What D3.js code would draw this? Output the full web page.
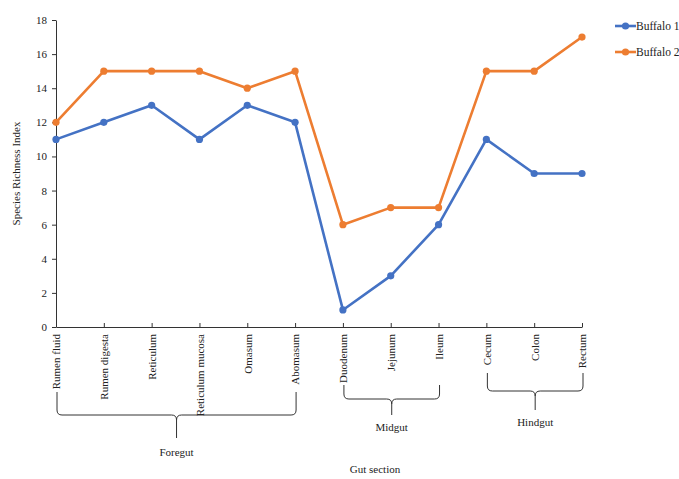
<!DOCTYPE html>
<html>
<head>
<meta charset="utf-8">
<script src="https://cdn.jsdelivr.net/npm/d3@7"></script>
<style>
  body { margin: 0; background: #fff; }
  svg text { font-family: "Liberation Serif", "Times New Roman", serif; fill: #222; }
</style>
</head>
<body>
<svg id="chart"></svg>
<script>
// Chart data
const sections = ['Rumen fluid', 'Rumen digesta', 'Reticulum', 'Reticulum mucosa', 'Omasum', 'Abomasum',
                  'Duodenum', 'Jejunum', 'Ileum', 'Cecum', 'Colon', 'Rectum'];
const buffalo1 = [11, 12, 13, 11, 13, 12, 1, 3, 6, 11, 9, 9];
const buffalo2 = [12, 15, 15, 15, 14, 15, 6, 7, 7, 15, 15, 17];
const yTicks = [0, 2, 4, 6, 8, 10, 12, 14, 16, 18];
const groupNames = ['Foregut', 'Midgut', 'Hindgut'];
const groupFirst = ['Rumen fluid', 'Duodenum', 'Cecum'];
const groupLast = ['Abomasum', 'Ileum', 'Rectum'];

const width = 679, height = 479;
const margin = { top: 20, right: 97, bottom: 152, left: 56 };

const svg = d3.select('#chart')
    .attr('width', width)
    .attr('height', height);

const x = d3.scalePoint()
    .domain(sections)
    .range([margin.left, width - margin.right]);

const y = d3.scaleLinear()
    .domain([0, 18])
    .range([height - margin.bottom, margin.top]);

// y axis
const yAxisG = svg.append('g')
    .attr('transform', `translate(${margin.left},0)`)
    .call(d3.axisLeft(y).tickValues(yTicks).tickSize(4).tickSizeOuter(0));
yAxisG.select('.domain').attr('stroke', '#333');
yAxisG.selectAll('.tick line').attr('stroke', '#333');
yAxisG.selectAll('.tick text')
    .attr('font-size', '11px')
    .attr('x', -9)
    .style('font-family', '"Liberation Serif", serif')
    .attr('fill', '#222');

// x axis
const xAxisG = svg.append('g')
    .attr('transform', `translate(0,${y(0)})`)
    .call(d3.axisBottom(x).tickSize(-4).tickSizeOuter(0));
xAxisG.select('.domain').attr('stroke', '#333');
xAxisG.selectAll('.tick line').attr('stroke', '#333');
xAxisG.selectAll('.tick text')
    .attr('font-size', '11px')
    .style('font-family', '"Liberation Serif", serif')
    .attr('fill', '#222')
    .attr('text-anchor', 'end')
    .attr('transform', 'rotate(-90)')
    .attr('x', -7)
    .attr('y', 0)
    .attr('dy', '0.35em');

// y axis title
svg.append('text')
    .attr('transform', `translate(20,${(y(0) + y(18)) / 2}) rotate(-90)`)
    .attr('text-anchor', 'middle')
    .attr('font-size', '11px')
    .text('Species Richness Index');

// lines and markers
const series = [
    { name: 'Buffalo 1', values: buffalo1, color: '#4472C4' },
    { name: 'Buffalo 2', values: buffalo2, color: '#ED7D31' }
];

const line = d3.line()
    .x((d, i) => x(sections[i]))
    .y(d => y(d));

series.forEach(s => {
    svg.append('path')
        .datum(s.values)
        .attr('fill', 'none')
        .attr('stroke', s.color)
        .attr('stroke-width', 2.6)
        .attr('stroke-linejoin', 'round')
        .attr('d', line);

    svg.selectAll(null)
        .data(s.values)
        .join('circle')
        .attr('cx', (d, i) => x(sections[i]))
        .attr('cy', d => y(d))
        .attr('r', 3.6)
        .attr('fill', s.color);
});

// legend
const legend = svg.append('g').attr('transform', 'translate(615,26)');
series.forEach((s, i) => {
    const g = legend.append('g').attr('transform', `translate(0,${i * 26})`);
    g.append('line')
        .attr('x1', 0).attr('x2', 21)
        .attr('stroke', s.color).attr('stroke-width', 2.6);
    g.append('circle').attr('cx', 10.5).attr('r', 3.6).attr('fill', s.color);
    g.append('text')
        .attr('x', 21).attr('dy', '0.35em')
        .attr('font-size', '11.5px')
        .text(s.name);
});

// group braces
const braceTop = [392, 385, 373];
const braceMid = [415, 399, 391];
const braceTip = [438, 415, 410];
const labelY = [456, 431, 426];

function bracePath(x1, x2, yTop, yMid, yTip) {
    const xc = (x1 + x2) / 2, r = 5;
    return `M${x1},${yTop} L${x1},${yMid - r} Q${x1},${yMid} ${x1 + r},${yMid} ` +
           `L${xc - r},${yMid} Q${xc},${yMid} ${xc},${yMid + r} L${xc},${yTip} ` +
           `M${x2},${yTop} L${x2},${yMid - r} Q${x2},${yMid} ${x2 - r},${yMid} ` +
           `L${xc + r},${yMid} Q${xc},${yMid} ${xc},${yMid + r}`;
}

groupNames.forEach((name, i) => {
    const x1 = x(groupFirst[i]) + 1, x2 = x(groupLast[i]) + 1;
    svg.append('path')
        .attr('d', bracePath(x1, x2, braceTop[i], braceMid[i], braceTip[i]))
        .attr('fill', 'none')
        .attr('stroke', '#333')
        .attr('stroke-width', 1);
    svg.append('text')
        .attr('x', (x1 + x2) / 2)
        .attr('y', labelY[i])
        .attr('text-anchor', 'middle')
        .attr('font-size', '11px')
        .text(name);
});

// x axis title
svg.append('text')
    .attr('x', 375)
    .attr('y', 473)
    .attr('text-anchor', 'middle')
    .attr('font-size', '11px')
    .text('Gut section');
</script>
</body>
</html>
